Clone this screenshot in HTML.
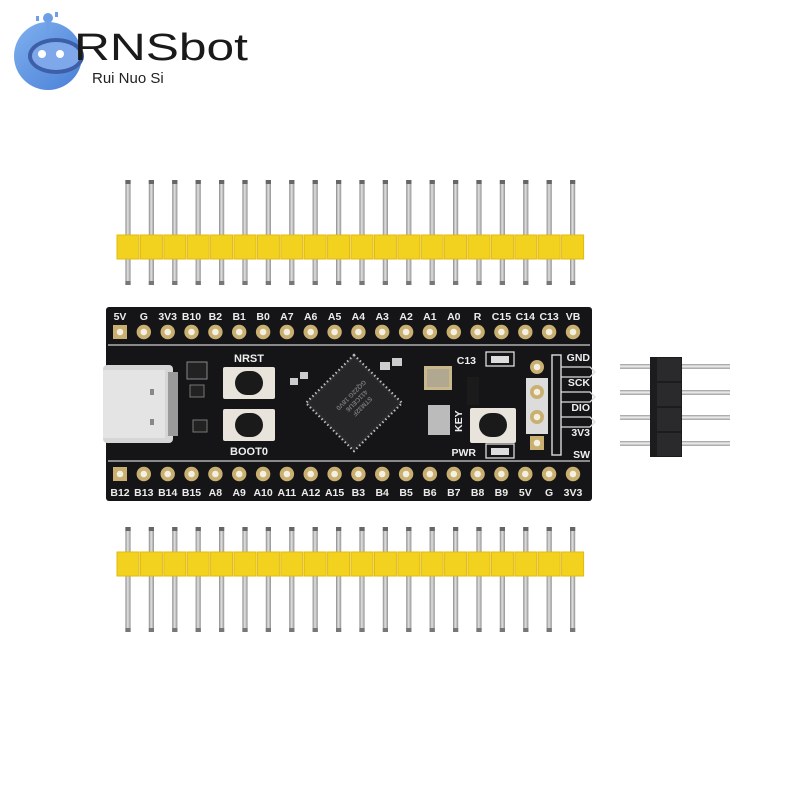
<!DOCTYPE html>
<html><head><meta charset="utf-8"><style>
html,body{margin:0;padding:0;background:#fff;width:800px;height:800px;overflow:hidden}
svg{display:block}
text{font-family:"Liberation Sans",sans-serif;font-weight:bold}
</style></head><body>
<svg width="800" height="800" viewBox="0 0 800 800" xmlns="http://www.w3.org/2000/svg">
<defs>
<linearGradient id="pin" x1="0" x2="1"><stop offset="0" stop-color="#888"/><stop offset=".45" stop-color="#e2e2e2"/><stop offset="1" stop-color="#929292"/></linearGradient>
<linearGradient id="pinh" x1="0" x2="0" y1="0" y2="1"><stop offset="0" stop-color="#9a9a9a"/><stop offset=".45" stop-color="#eeeeee"/><stop offset="1" stop-color="#a0a0a0"/></linearGradient>
<linearGradient id="logo" x1="0" y1="0" x2="1" y2="1"><stop offset="0" stop-color="#7fb0ef"/><stop offset="1" stop-color="#4a7fd6"/></linearGradient>
<g id="hp"><rect x="-2.6" y="0" width="5.2" height="105" fill="url(#pin)"/><rect x="-2.6" y="0" width="5.2" height="4" fill="#666"/><rect x="-2.6" y="101" width="5.2" height="4" fill="#777"/></g>
<g id="ys"><rect x="-11" y="0" width="22" height="24" fill="#f3d21f" stroke="#e0b90e" stroke-width="1"/></g>
<g id="pad"><circle r="7.2" fill="#c9b070"/><circle r="3.3" fill="#f4efe3"/></g>
</defs>

<!-- logo -->
<g>
<circle cx="48" cy="56" r="34" fill="url(#logo)"/>
<ellipse cx="56" cy="56" rx="28" ry="18" fill="#3c5fa8"/>
<ellipse cx="56" cy="56" rx="24" ry="14" fill="#7ea8ea"/>
<circle cx="42" cy="54" r="4" fill="#fff"/><circle cx="60" cy="54" r="4" fill="#fff"/>
<circle cx="48" cy="18" r="5" fill="#6e9fe6"/><rect x="46.5" y="20" width="3" height="12" fill="#6e9fe6"/>
<rect x="36" y="16" width="3" height="5" fill="#6e9fe6"/><rect x="55" y="12" width="3" height="5" fill="#6e9fe6"/>
<text x="74" y="60" font-size="38" fill="#1a1a1a" textLength="174" lengthAdjust="spacingAndGlyphs" style="font-weight:normal">RNSbot</text>
<text x="92" y="83" font-size="15" fill="#222" style="font-weight:normal">Rui  Nuo Si</text>
</g>

<!-- top header -->
<g transform="translate(0,180)">
<use href="#hp" x="128"/><use href="#hp" x="151.4"/><use href="#hp" x="174.8"/><use href="#hp" x="198.2"/><use href="#hp" x="221.6"/><use href="#hp" x="245"/><use href="#hp" x="268.4"/><use href="#hp" x="291.8"/><use href="#hp" x="315.2"/><use href="#hp" x="338.6"/><use href="#hp" x="362"/><use href="#hp" x="385.4"/><use href="#hp" x="408.8"/><use href="#hp" x="432.2"/><use href="#hp" x="455.6"/><use href="#hp" x="479"/><use href="#hp" x="502.4"/><use href="#hp" x="525.8"/><use href="#hp" x="549.2"/><use href="#hp" x="572.6"/>
</g>
<g transform="translate(5,235)">
<use href="#ys" x="123"/><use href="#ys" x="146.4"/><use href="#ys" x="169.8"/><use href="#ys" x="193.2"/><use href="#ys" x="216.6"/><use href="#ys" x="240"/><use href="#ys" x="263.4"/><use href="#ys" x="286.8"/><use href="#ys" x="310.2"/><use href="#ys" x="333.6"/><use href="#ys" x="357"/><use href="#ys" x="380.4"/><use href="#ys" x="403.8"/><use href="#ys" x="427.2"/><use href="#ys" x="450.6"/><use href="#ys" x="474"/><use href="#ys" x="497.4"/><use href="#ys" x="520.8"/><use href="#ys" x="544.2"/><use href="#ys" x="567.6"/>
</g>

<!-- bottom header -->
<g transform="translate(0,527)">
<use href="#hp" x="128"/><use href="#hp" x="151.4"/><use href="#hp" x="174.8"/><use href="#hp" x="198.2"/><use href="#hp" x="221.6"/><use href="#hp" x="245"/><use href="#hp" x="268.4"/><use href="#hp" x="291.8"/><use href="#hp" x="315.2"/><use href="#hp" x="338.6"/><use href="#hp" x="362"/><use href="#hp" x="385.4"/><use href="#hp" x="408.8"/><use href="#hp" x="432.2"/><use href="#hp" x="455.6"/><use href="#hp" x="479"/><use href="#hp" x="502.4"/><use href="#hp" x="525.8"/><use href="#hp" x="549.2"/><use href="#hp" x="572.6"/>
</g>
<g transform="translate(5,552)">
<use href="#ys" x="123"/><use href="#ys" x="146.4"/><use href="#ys" x="169.8"/><use href="#ys" x="193.2"/><use href="#ys" x="216.6"/><use href="#ys" x="240"/><use href="#ys" x="263.4"/><use href="#ys" x="286.8"/><use href="#ys" x="310.2"/><use href="#ys" x="333.6"/><use href="#ys" x="357"/><use href="#ys" x="380.4"/><use href="#ys" x="403.8"/><use href="#ys" x="427.2"/><use href="#ys" x="450.6"/><use href="#ys" x="474"/><use href="#ys" x="497.4"/><use href="#ys" x="520.8"/><use href="#ys" x="544.2"/><use href="#ys" x="567.6"/>
</g>

<!-- right 4-pin header -->
<g>
<rect x="620" y="364" width="110" height="5" fill="url(#pinh)"/>
<rect x="620" y="390" width="110" height="5" fill="url(#pinh)"/>
<rect x="620" y="415" width="110" height="5" fill="url(#pinh)"/>
<rect x="620" y="441" width="110" height="5" fill="url(#pinh)"/>
<rect x="650" y="357" width="32" height="100" fill="#1c1c1e"/>
<rect x="657" y="358" width="24" height="23" fill="#2a2a2c"/><rect x="657" y="383" width="24" height="23" fill="#2a2a2c"/><rect x="657" y="408" width="24" height="23" fill="#2a2a2c"/><rect x="657" y="433" width="24" height="23" fill="#2a2a2c"/>
</g>

<!-- board -->
<rect x="106" y="307" width="486" height="194" rx="3" fill="#151517"/>
<line x1="108" y1="345" x2="590" y2="345" stroke="#cfcfcf" stroke-width="1.2"/>
<line x1="108" y1="461" x2="590" y2="461" stroke="#cfcfcf" stroke-width="1.2"/>

<g font-size="10.5" fill="#ececec" text-anchor="middle">
<text x="120" y="320">5V</text><text x="143.8" y="320">G</text><text x="167.7" y="320">3V3</text><text x="191.5" y="320">B10</text><text x="215.4" y="320">B2</text><text x="239.2" y="320">B1</text><text x="263.1" y="320">B0</text><text x="286.9" y="320">A7</text><text x="310.7" y="320">A6</text><text x="334.6" y="320">A5</text><text x="358.4" y="320">A4</text><text x="382.2" y="320">A3</text><text x="406.1" y="320">A2</text><text x="429.9" y="320">A1</text><text x="453.8" y="320">A0</text><text x="477.6" y="320">R</text><text x="501.4" y="320">C15</text><text x="525.3" y="320">C14</text><text x="549.1" y="320">C13</text><text x="573" y="320">VB</text>
<text x="120" y="496">B12</text><text x="143.8" y="496">B13</text><text x="167.7" y="496">B14</text><text x="191.5" y="496">B15</text><text x="215.4" y="496">A8</text><text x="239.2" y="496">A9</text><text x="263.1" y="496">A10</text><text x="286.9" y="496">A11</text><text x="310.7" y="496">A12</text><text x="334.6" y="496">A15</text><text x="358.4" y="496">B3</text><text x="382.2" y="496">B4</text><text x="406.1" y="496">B5</text><text x="429.9" y="496">B6</text><text x="453.8" y="496">B7</text><text x="477.6" y="496">B8</text><text x="501.4" y="496">B9</text><text x="525.3" y="496">5V</text><text x="549.1" y="496">G</text><text x="573" y="496">3V3</text>
</g>

<g transform="translate(0,332)">
<rect x="113" y="-7" width="14" height="14" fill="#c9b070"/>
<use href="#pad" x="143.8"/><use href="#pad" x="167.7"/><use href="#pad" x="191.5"/><use href="#pad" x="215.4"/><use href="#pad" x="239.2"/><use href="#pad" x="263.1"/><use href="#pad" x="286.9"/><use href="#pad" x="310.7"/><use href="#pad" x="334.6"/><use href="#pad" x="358.4"/><use href="#pad" x="382.2"/><use href="#pad" x="406.1"/><use href="#pad" x="429.9"/><use href="#pad" x="453.8"/><use href="#pad" x="477.6"/><use href="#pad" x="501.4"/><use href="#pad" x="525.3"/><use href="#pad" x="549.1"/><use href="#pad" x="573"/>
<circle cx="120" cy="0" r="3.3" fill="#f4efe3"/>
</g>
<g transform="translate(0,474)">
<rect x="113" y="-7" width="14" height="14" fill="#c9b070"/>
<use href="#pad" x="143.8"/><use href="#pad" x="167.7"/><use href="#pad" x="191.5"/><use href="#pad" x="215.4"/><use href="#pad" x="239.2"/><use href="#pad" x="263.1"/><use href="#pad" x="286.9"/><use href="#pad" x="310.7"/><use href="#pad" x="334.6"/><use href="#pad" x="358.4"/><use href="#pad" x="382.2"/><use href="#pad" x="406.1"/><use href="#pad" x="429.9"/><use href="#pad" x="453.8"/><use href="#pad" x="477.6"/><use href="#pad" x="501.4"/><use href="#pad" x="525.3"/><use href="#pad" x="549.1"/><use href="#pad" x="573"/>
<circle cx="120" cy="0" r="3.3" fill="#f4efe3"/>
</g>

<!-- USB-C -->
<rect x="103" y="365" width="70" height="78" rx="4" fill="#d6d6d6"/>
<rect x="103" y="370" width="62" height="68" fill="#e4e4e4"/>
<rect x="168" y="372" width="10" height="64" fill="#9a9a9a"/>
<rect x="150" y="389" width="4" height="6" fill="#888"/><rect x="150" y="419" width="4" height="6" fill="#888"/>
<rect x="187" y="362" width="20" height="17" fill="#222" stroke="#888" stroke-width="1"/>
<rect x="190" y="385" width="14" height="12" fill="#222" stroke="#777"/>
<rect x="193" y="420" width="14" height="12" fill="#222" stroke="#777"/>

<!-- buttons -->
<g fill="#e8e4dc">
<rect x="223" y="367" width="52" height="32" rx="2"/>
<rect x="223" y="409" width="52" height="32" rx="2"/>
</g>
<rect x="235" y="371" width="28" height="24" rx="12" fill="#1a1a1a"/>
<rect x="235" y="413" width="28" height="24" rx="12" fill="#1a1a1a"/>
<text x="249" y="362" font-size="11" fill="#eee" text-anchor="middle">NRST</text>
<text x="249" y="455" font-size="11" fill="#eee" text-anchor="middle">BOOT0</text>

<!-- MCU -->
<g transform="translate(354,403) rotate(45)">
<rect x="-34" y="-34" width="68" height="68" fill="#2a2a2c" stroke="#bbb" stroke-width="2.2" stroke-dasharray="1.5 2.6"/>
<rect x="-31" y="-31" width="62" height="62" fill="#262628"/>
</g>
<g transform="translate(356,400) rotate(135)" font-size="6.5" fill="#777" text-anchor="middle" style="font-weight:normal">
<text y="-7">STM32F</text><text y="1">411CEU6</text><text y="9">GQ22G 18V0</text></g>

<!-- small parts -->
<rect x="290" y="378" width="8" height="7" fill="#ccc"/><rect x="300" y="372" width="8" height="7" fill="#ccc"/>
<rect x="380" y="362" width="10" height="8" fill="#ccc"/><rect x="392" y="358" width="10" height="8" fill="#ccc"/>
<rect x="424" y="366" width="28" height="24" fill="#c8b88a"/><rect x="427" y="369" width="22" height="18" fill="#b0a890"/>
<rect x="428" y="405" width="22" height="30" fill="#bbb"/>
<rect x="467" y="377" width="12" height="28" fill="#1b1b1b"/>
<rect x="470" y="408" width="46" height="35" rx="2" fill="#e8e4dc"/>
<rect x="479" y="413" width="28" height="24" rx="12" fill="#1a1a1a"/>
<rect x="486" y="352" width="28" height="14" fill="none" stroke="#ddd" stroke-width="1.3"/>
<rect x="491" y="356" width="18" height="7" fill="#ddd"/>
<rect x="486" y="444" width="28" height="14" fill="none" stroke="#ddd" stroke-width="1.3"/>
<rect x="491" y="448" width="18" height="7" fill="#ddd"/>
<text x="476" y="364" font-size="10.5" fill="#eee" text-anchor="end">C13</text>
<text x="476" y="456" font-size="10.5" fill="#eee" text-anchor="end">PWR</text>
<text transform="translate(462,432) rotate(-90)" font-size="10.5" fill="#eee">KEY</text>

<!-- SWD -->
<rect x="526" y="378" width="22" height="56" fill="#dcdcdc"/>
<circle cx="537" cy="367" r="7" fill="#c9b070"/><circle cx="537" cy="367" r="3.3" fill="#f4efe3"/>
<circle cx="537" cy="392" r="7" fill="#c9b070"/><circle cx="537" cy="392" r="3.3" fill="#f4efe3"/>
<circle cx="537" cy="417" r="7" fill="#c9b070"/><circle cx="537" cy="417" r="3.3" fill="#f4efe3"/>
<rect x="530" y="436" width="14" height="14" fill="#c9b070"/><circle cx="537" cy="443" r="3.3" fill="#f4efe3"/>
<rect x="552" y="355" width="9" height="100" fill="none" stroke="#ddd" stroke-width="1.4"/>
<g fill="none" stroke="#ddd" stroke-width="1.3">
<path d="M561 367 H590 l5 5 l-5 5 H561"/>
<path d="M561 392 H590 l5 5 l-5 5 H561"/>
<path d="M561 417 H590 l5 5 l-5 5 H561"/>
</g>
<g font-size="10.5" fill="#eee" text-anchor="end">
<text x="590" y="361">GND</text><text x="590" y="386">SCK</text><text x="590" y="411">DIO</text><text x="590" y="436">3V3</text><text x="590" y="458">SW</text>
</g>
</svg>
</body></html>
